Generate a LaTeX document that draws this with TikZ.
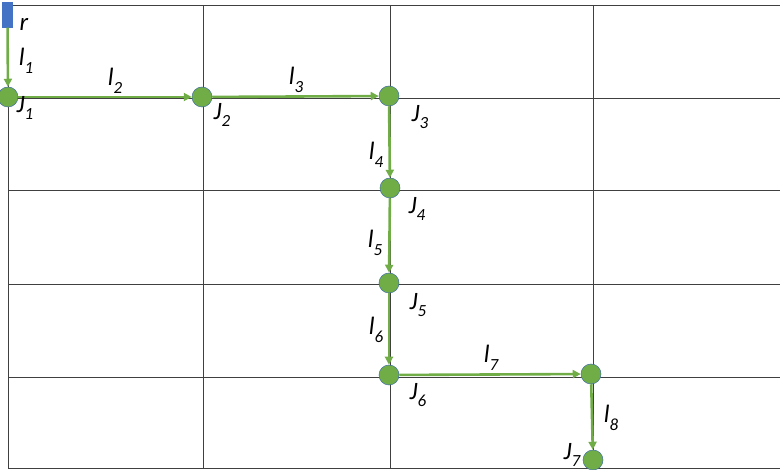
\documentclass[tikz,border=0pt]{standalone}
\usepackage{fontspec}
\setmainfont{Carlito}
\usetikzlibrary{arrows.meta}

\definecolor{linkgreen}{HTML}{70AD47}
\definecolor{jointedge}{HTML}{41719C}
\definecolor{rootblue}{HTML}{4472C4}

\newcommand{\sublbl}[2]{#1\raisebox{-0.3em}{\fontsize{17}{17}\selectfont #2}}

\begin{document}
\begin{tikzpicture}[
    x=1pt, y=-1pt,
    grid line/.style={draw=black!75, line width=0.9pt},
    joint/.style={circle, draw=jointedge, line width=0.5pt, fill=linkgreen, minimum size=20pt, inner sep=0pt},
    root/.style={rectangle, draw=rootblue, fill=rootblue, minimum width=10pt, minimum height=25pt, inner sep=0pt},
    link/.style={draw=linkgreen, line width=2.6pt, -{Triangle[length=8pt,width=8pt]}},
    lbl/.style={font=\fontsize{25}{28}\selectfont\itshape, inner sep=0pt}
]
\useasboundingbox (0,0) rectangle (780,470);

% Grid
\foreach \y in {5,98,190,284,377,468}
  \draw[grid line] (8,\y) -- (780,\y);
\foreach \x in {8,203,390,593}
  \draw[grid line] (\x,5) -- (\x,468);

% Base and joints
\node[root] (r) at (7.5,15) {};
\node[joint] (J1) at (8,97) {};
\node[joint] (J2) at (202,97) {};
\node[joint] (J3) at (389,96) {};
\node[joint] (J4) at (390,188) {};
\node[joint] (J5) at (389,283) {};
\node[joint] (J6) at (389,375) {};
\node[joint] (J6b) at (591,374) {};
\node[joint] (J7) at (593,460) {};

% Links
\draw[link] (r) -- (J1);
\draw[link] (J1) -- (J2);
\draw[link] (J2) -- (J3);
\draw[link] (J3) -- (J4);
\draw[link] (J4) -- (J5);
\draw[link] (J5) -- (J6);
\draw[link] (J6) -- (J6b);
\draw[link] (J6b) -- (J7);

% Labels
\node[lbl] (tr) at (24,24) {r};
\node[lbl] (tl1) at (26,61) {\sublbl{l}{1}};
\node[lbl] (tJ1) at (25,108) {\sublbl{J}{1}};
\node[lbl] (tl2) at (115,81) {\sublbl{l}{2}};
\node[lbl] (tJ2) at (222,115) {\sublbl{J}{2}};
\node[lbl] (tl3) at (296,80) {\sublbl{l}{3}};
\node[lbl] (tJ3) at (420,117) {\sublbl{J}{3}};
\node[lbl] (tl4) at (376,155) {\sublbl{l}{4}};
\node[lbl] (tJ4) at (417,209) {\sublbl{J}{4}};
\node[lbl] (tl5) at (375,243) {\sublbl{l}{5}};
\node[lbl] (tJ5) at (418,305) {\sublbl{J}{5}};
\node[lbl] (tl6) at (376,330) {\sublbl{l}{6}};
\node[lbl] (tJ6) at (418,395) {\sublbl{J}{6}};
\node[lbl] (tl7) at (491,358) {\sublbl{l}{7}};
\node[lbl] (tl8) at (611,418) {\sublbl{l}{8}};
\node[lbl] (tJ7) at (572,455) {\sublbl{J}{7}};

\end{tikzpicture}
\end{document}
